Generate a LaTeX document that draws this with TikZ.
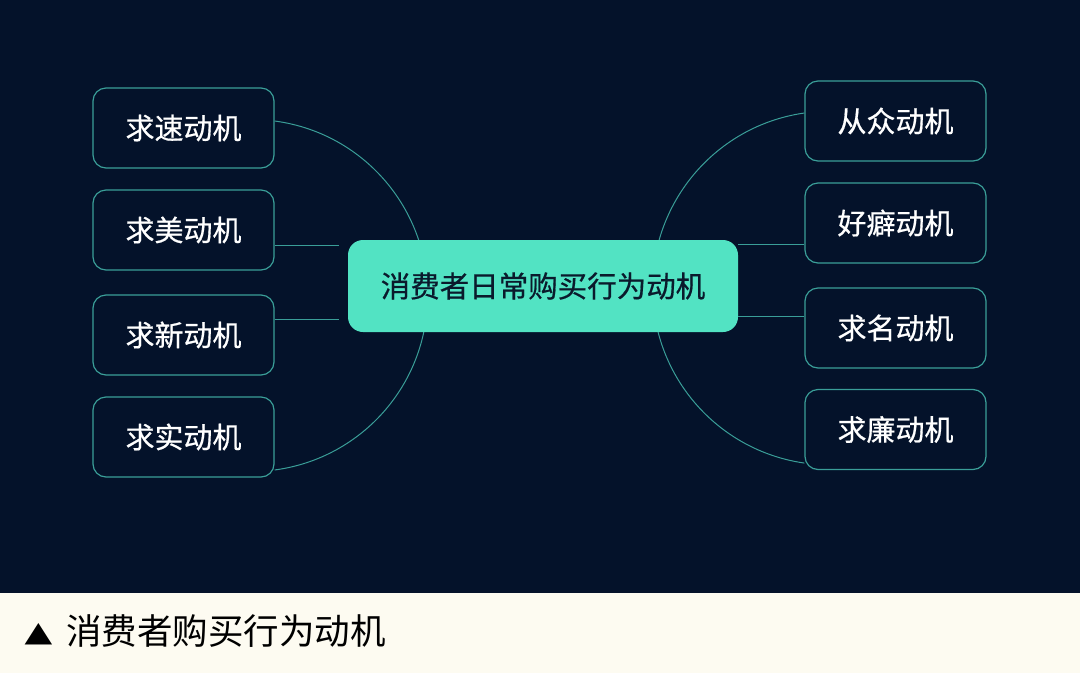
\documentclass[tikz,border=0pt]{standalone}
\usepackage{fontspec}
\setmainfont{Noto Sans CJK SC}
\newfontfamily\medfont[FakeBold=0.6]{Noto Sans CJK SC}
\newfontfamily\symfont{DejaVu Sans}
\definecolor{bgdark}{HTML}{04122A}
\definecolor{capbg}{HTML}{FDFBF1}
\definecolor{teal}{HTML}{3A9E98}
\definecolor{mint}{HTML}{52E3C3}
\definecolor{ink}{HTML}{0A1A2C}
\tikzset{
  motive/.style={draw=teal, line width=1.2pt, rounded corners=13pt, fill=bgdark,
    minimum width=181pt, minimum height=80pt, inner sep=0pt, text=white,
    font=\medfont\fontsize{29}{29}\selectfont},
  hub/.style={fill=mint, rounded corners=15pt, minimum width=390pt, minimum height=92pt,
    inner sep=0pt, text=ink, font=\medfont\fontsize{29.5}{29.5}\selectfont},
  link/.style={draw=teal, line width=1pt}
}
\begin{document}
\begin{tikzpicture}[x=1pt,y=1pt]
\useasboundingbox (0,0) rectangle (1080,-673);
\fill[bgdark] (0,0) rectangle (1080,-593);
\fill[capbg] (0,-593) rectangle (1080,-673);
% left nodes
\node[motive] (l1) at (183.5,-128) {求速动机};
\node[motive] (l2) at (183.5,-230) {求美动机};
\node[motive] (l3) at (183.5,-335) {求新动机};
\node[motive] (l4) at (183.5,-437) {求实动机};
% right nodes
\node[motive] (r1) at (895.5,-121) {从众动机};
\node[motive] (r2) at (895.5,-223) {好癖动机};
\node[motive] (r3) at (895.5,-328) {求名动机};
\node[motive] (r4) at (895.5,-429.5) {求廉动机};
% connectors
\coordinate (lj2) at (339,-245);
\coordinate (lj3) at (339,-319);
\draw[link] (l1.east |- 0,-121) arc[start angle=82.5, end angle=-82.5, radius=176];
\draw[link] (r1.west |- 0,-113) arc[start angle=98.1, end angle=261.9, radius=176.8];
\draw[link] (l2.east |- lj2) -- (lj2);
\draw[link] (l3.east |- lj3) -- (lj3);
% hub
\node[hub] (c) at (543,-286) {消费者日常购买行为动机};
\draw[link] (c.east |- 0,-244) -- (r2.west |- 0,-244);
\draw[link] (c.east |- 0,-316) -- (r3.west |- 0,-316);
% caption
\node[anchor=west, inner sep=0pt, text=black, font=\fontsize{35.5}{35.5}\selectfont] (cap) at (66,-631.5) {消费者购买行为动机};
\node[anchor=center, inner sep=0pt, text=black, font=\symfont\fontsize{36}{36}\selectfont, yscale=0.78] (tri) at (38.5,-634) {▲};
\end{tikzpicture}
\end{document}
